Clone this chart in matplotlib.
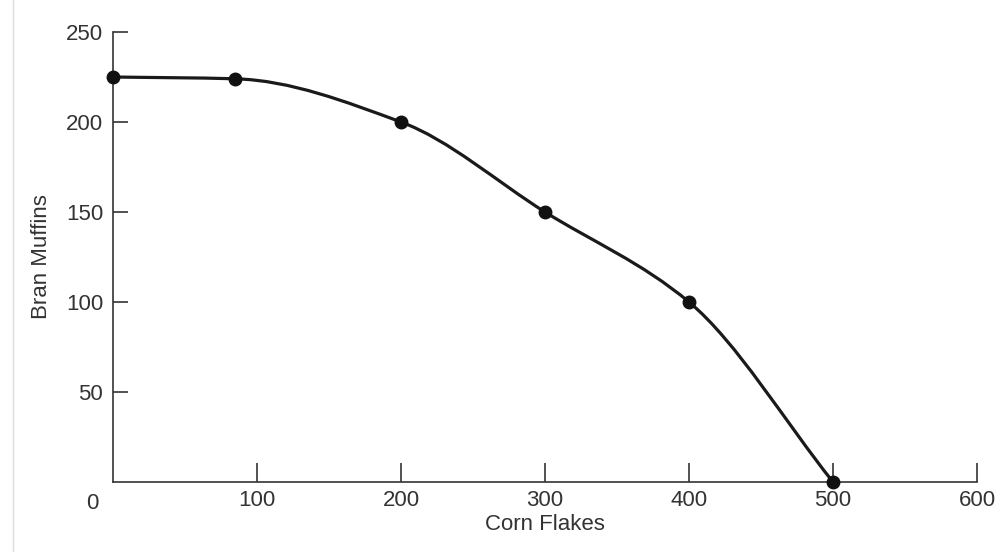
import matplotlib.pyplot as plt
from matplotlib.path import Path
from matplotlib.patches import PathPatch

corn_flakes = [0, 85, 200, 300, 400, 500]
bran_muffins = [225, 224, 200, 150, 100, 0]
x_ticks = [100, 200, 300, 400, 500, 600]
y_ticks = [50, 100, 150, 200, 250]

plt.rcParams['font.family'] = ['Liberation Sans', 'DejaVu Sans']

fig = plt.figure(figsize=(10, 5.52), dpi=100)
ax = fig.add_axes([0.113, 70 / 552, 0.864, 450 / 552])
ax.set_xlim(0, 600)
ax.set_ylim(0, 250)

# smooth monotone curve through the points (cubic Bezier segments)
xs, ys = corn_flakes, bran_muffins
n = len(xs)
d = [(ys[i + 1] - ys[i]) / (xs[i + 1] - xs[i]) for i in range(n - 1)]
m = [d[0]]
for i in range(1, n - 1):
    m.append(2 / (1 / d[i - 1] + 1 / d[i]) if d[i - 1] * d[i] > 0 else 0)
m.append(d[-1])
verts = [(xs[0], ys[0])]
codes = [Path.MOVETO]
for i in range(n - 1):
    h = (xs[i + 1] - xs[i]) / 3
    verts += [(xs[i] + h, ys[i] + m[i] * h), (xs[i + 1] - h, ys[i + 1] - m[i + 1] * h),
              (xs[i + 1], ys[i + 1])]
    codes += [Path.CURVE4] * 3
ax.add_patch(PathPatch(Path(verts, codes), facecolor='none', edgecolor='#1a1a1a',
                       lw=2.3, clip_on=False, zorder=3))
ax.plot(corn_flakes, bran_muffins, 'o', color='#111111', ms=9, clip_on=False, zorder=4)

for s in ['top', 'right']:
    ax.spines[s].set_visible(False)
for s in ['left', 'bottom']:
    ax.spines[s].set_linewidth(1.2)
    ax.spines[s].set_color('#333333')

ax.set_xticks(x_ticks)
ax.set_yticks(y_ticks)
ax.tick_params(axis='y', direction='in', length=11, width=1.2, color='#333333',
               labelsize=16, pad=7, labelcolor='#333333')
ax.tick_params(axis='x', direction='in', length=14, width=1.2, color='#333333',
               labelsize=16, pad=6, labelcolor='#333333')
ax.text(-10, -6, '0', fontsize=16, color='#333333', ha='right', va='top')

ax.set_xlabel('Corn Flakes', fontsize=16, color='#333333', labelpad=2)
ax.set_ylabel('Bran Muffins', fontsize=16, color='#333333', labelpad=10)

fig.add_artist(plt.Line2D([0.013, 0.013], [0, 1], color='#dddddd', lw=1))

fig.savefig('out.png', dpi=100)
